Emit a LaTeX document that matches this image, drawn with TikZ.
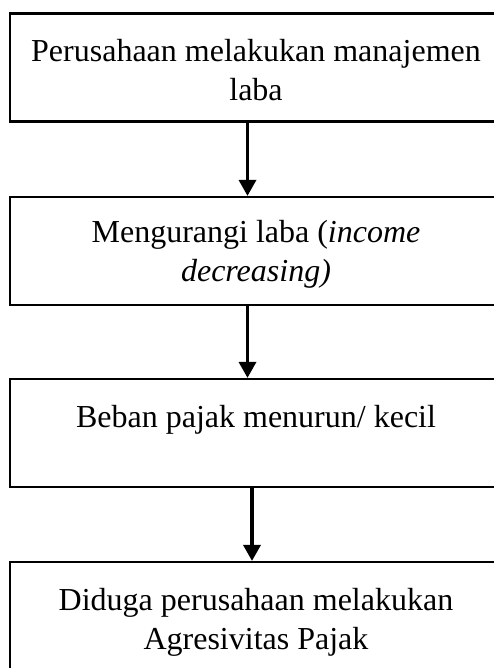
\documentclass[tikz,border=0pt]{standalone}
\usepackage{fontspec}
\setmainfont{Liberation Serif}
\usetikzlibrary{arrows.meta}
\begin{document}
\begin{tikzpicture}[x=1pt,y=-1pt,
  box/.style={draw=black, line width=2.2pt, minimum width=492pt, inner sep=0pt},
  lbl/.style={font=\fontsize{32}{38}\selectfont, inner sep=0pt, anchor=base},
  arr/.style={line width=3.4pt, -{Triangle[width=17pt,length=16pt]}}]
\useasboundingbox (0,0) rectangle (494,668);
\clip (0,0) rectangle (494,668);
\fill[white] (0,0) rectangle (494,668);
% boxes
\node[box, minimum height=108pt] (b1) at (256,67.5) {};
\node[box, minimum height=108pt] (b2) at (256,251) {};
\node[box, minimum height=108pt] (b3) at (256,433) {};
\node[box, minimum height=110pt] (b4) at (256,617) {};
% texts
\node[lbl] (t1a) at (256,62) {Perusahaan melakukan manajemen};
\node[lbl] (t1b) at (256,101) {laba};
\node[lbl] (t2a) at (256,242) {Mengurangi laba (\textit{income}};
\node[lbl] (t2b) at (256,281) {\textit{decreasing)}};
\node[lbl] (t3a) at (256,427) {Beban pajak menurun/ kecil};
\node[lbl] (t4a) at (256,610) {Diduga perusahaan melakukan};
\node[lbl] (t4b) at (256,649) {Agresivitas Pajak};
% arrows
\draw[arr] ([xshift=-8.5pt]b1.south) -- ([xshift=-8.5pt]b2.north);
\draw[arr] ([xshift=-8.5pt]b2.south) -- ([xshift=-8.5pt]b3.north);
\draw[arr] ([xshift=-4pt]b3.south) -- ([xshift=-4pt]b4.north);
\end{tikzpicture}
\end{document}
